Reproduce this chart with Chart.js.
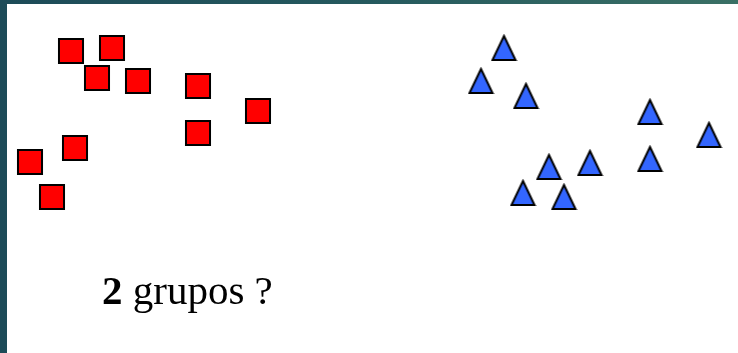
<!DOCTYPE html>
<html>
<head>
<meta charset="utf-8">
<script src="https://cdn.jsdelivr.net/npm/chart.js@4"></script>
<style>
  html, body { margin: 0; padding: 0; }
  body { width: 738px; height: 353px; position: relative; overflow: hidden;
         background: linear-gradient(90deg, #1d4b58 0%, #25595e 50%, #3a7065 100%); }
  #panel { position: absolute; left: 7px; top: 4px; right: 0; bottom: 0; background: #fff; }
  #wrap { position: absolute; left: 0; top: 0; width: 738px; height: 353px; }
  #label { position: absolute; left: 102px; top: 266px; font-family: "Liberation Serif", "Times New Roman", serif;
           font-size: 41px; color: #000; white-space: nowrap; }
</style>
</head>
<body>
<div id="panel"></div>
<div id="wrap"><canvas id="myChart"></canvas></div>
<div id="label"><b>2</b> grupos ?</div>
<script>
// grupo 1 (cuadrados rojos)
const squaresX = [71, 112, 97, 138, 198, 258, 198, 75, 30, 52];
const squaresY = [51, 48, 78, 81, 86, 111, 133, 148, 162, 197];
// grupo 2 (triangulos azules)
const trianglesX = [504, 481, 526, 549, 523, 564, 590, 650, 650, 709];
const trianglesY = [48, 81, 96, 167, 193, 197, 163, 112, 159, 135];

const toPoints = (xs, ys) => xs.map((x, i) => ({ x, y: ys[i] }));

// triangulo un poco mas alto que ancho, como en la figura
function makeTriangle(w, h, lw, fill) {
    const c = document.createElement('canvas');
    c.width = w + lw * 2;
    c.height = h + lw * 2;
    const g = c.getContext('2d');
    g.beginPath();
    g.moveTo(c.width / 2, lw);
    g.lineTo(c.width - lw, c.height - lw);
    g.lineTo(lw, c.height - lw);
    g.closePath();
    g.fillStyle = fill;
    g.fill();
    g.lineWidth = lw;
    g.lineJoin = 'miter';
    g.strokeStyle = '#000';
    g.stroke();
    return c;
}
const triangleImg = makeTriangle(23, 24, 2, '#3366ff');

const ctx = document.getElementById('myChart').getContext('2d');
const myChart = new Chart(ctx, {
    type: 'scatter',
    data: {
        datasets: [
            {
                label: 'Grupo 1',
                data: toPoints(squaresX, squaresY),
                pointStyle: 'rect',
                pointRadius: 17,
                backgroundColor: '#ff0000',
                borderColor: '#000000',
                borderWidth: 2,
            },
            {
                label: 'Grupo 2',
                data: toPoints(trianglesX, trianglesY),
                pointStyle: triangleImg,
                pointRadius: 14,
                backgroundColor: '#3366ff',
                borderColor: '#000000',
                borderWidth: 2,
            },
        ],
    },
    options: {
        responsive: true,
        maintainAspectRatio: false,
        animation: false,
        clip: false,
        layout: { padding: 0, autoPadding: false },
        plugins: { legend: { display: false }, tooltip: { enabled: false } },
        scales: {
            x: { type: 'linear', min: 0, max: 738, display: false },
            y: { type: 'linear', min: 0, max: 353, reverse: true, display: false },
        },
    },
});
</script>
</body>
</html>
